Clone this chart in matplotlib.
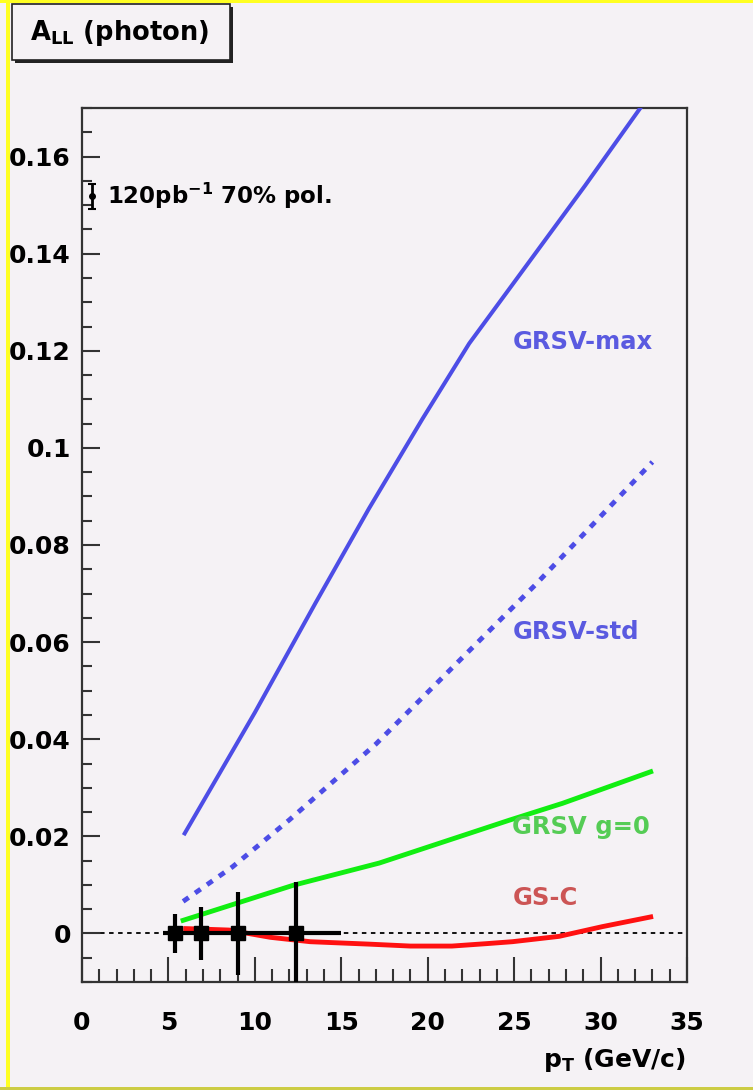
import matplotlib
matplotlib.use('Agg')
import matplotlib.pyplot as plt
from matplotlib.patches import Rectangle
from matplotlib.ticker import MultipleLocator, FixedLocator, FixedFormatter

plt.rcParams['font.family'] = ['DejaVu Sans']
plt.rcParams['font.weight'] = 'bold'
plt.rcParams['mathtext.fontset'] = 'custom'
plt.rcParams['mathtext.rm'] = 'DejaVu Sans:bold'
plt.rcParams['mathtext.bf'] = 'DejaVu Sans:bold'
plt.rcParams['mathtext.it'] = 'DejaVu Sans:bold'

# theory curves: A_LL vs pT
pt_max = [5.94, 10.0, 13.5, 16.6, 19.7, 22.4, 25.7, 29.1, 32.3]
all_max = [0.0206, 0.0455, 0.0680, 0.0875, 0.1060, 0.1215, 0.1375, 0.1540, 0.1700]

pt_std = [5.85, 8.7, 12.0, 17.0, 22.2, 26.2, 33.0]
all_std = [0.0066, 0.0137, 0.0234, 0.0390, 0.0575, 0.0717, 0.0971]

pt_g0 = [5.85, 12.2, 17.2, 22.4, 24.7, 27.8, 32.9]
all_g0 = [0.0027, 0.0099, 0.0145, 0.0206, 0.0233, 0.0268, 0.0333]

pt_gsc = [6.0, 8.5, 10.9, 13.2, 16.6, 19.0, 21.4, 23.4, 24.9, 27.6, 30.1, 32.9]
all_gsc = [0.0010, 0.0007, -0.0008, -0.0017, -0.0022, -0.0026, -0.0026,
           -0.0021, -0.0017, -0.0006, 0.0014, 0.0034]

# projected measurement
pt_pts = [5.4, 6.9, 9.0, 12.4]
all_pts = [0.0, 0.0, 0.0, 0.0]
pt_err_lo = [0.7, 0.9, 1.0, 2.4]
pt_err_hi = [0.6, 1.1, 1.0, 2.6]
all_err = [0.0041, 0.0054, 0.0086, 0.0105]

ytick_vals = [0, 0.02, 0.04, 0.06, 0.08, 0.1, 0.12, 0.14, 0.16]
ytick_labels = ['0', '0.02', '0.04', '0.06', '0.08', '0.1', '0.12', '0.14', '0.16']

bg = '#f5f2f5'
blue = '#4d4de6'
blue_txt = '#5a5ae0'
green = '#11ee11'
green_txt = '#55cc55'
red = '#ff1111'
red_txt = '#cc5555'

W, H = 753, 1090
fig = plt.figure(figsize=(W / 100, H / 100), dpi=100)
fig.patch.set_facecolor(bg)

# canvas frame
fig.add_artist(Rectangle((6 / W, 0), 4 / W, 1, transform=fig.transFigure,
                         facecolor='#ffff22', edgecolor='none'))
fig.add_artist(Rectangle((0, 1 - 3 / H), 1, 3 / H, transform=fig.transFigure,
                         facecolor='#ffff22', edgecolor='none'))
fig.add_artist(Rectangle((0, 0), 1, 3 / H, transform=fig.transFigure,
                         facecolor='#cccc44', edgecolor='none'))

ax = fig.add_axes([82 / W, 1 - 982 / H, (687 - 82) / W, (982 - 108) / H])
ax.set_facecolor(bg)
ax.set_xlim(0, 35)
ax.set_ylim(-0.01, 0.17)

ax.axhline(0, color='black', lw=1.3, ls=(0, (2.5, 2.5)), zorder=1)

ax.plot(pt_max, all_max, color=blue, lw=2.9, zorder=3)
ax.plot(pt_std, all_std, color=blue, lw=3.5, ls=(0, (1.4, 1.6)), zorder=3)
ax.plot(pt_g0, all_g0, color=green, lw=3.5, zorder=3)
ax.plot(pt_gsc, all_gsc, color=red, lw=3.5, zorder=3)

ax.errorbar(pt_pts, all_pts, xerr=[pt_err_lo, pt_err_hi], yerr=all_err,
            fmt='s', color='black', ms=10, elinewidth=3, capsize=0, zorder=4)

# error scale marker
ax.errorbar([0.55], [0.1518], yerr=[0.0026], fmt='o', color='black', ms=4,
            elinewidth=2, capsize=3, capthick=1.5, zorder=4)
ax.text(1.45, 0.1518, r'120pb$^{-1}$ 70% pol.', fontsize=16.5, va='center', ha='left')

ax.text(24.9, 0.1218, 'GRSV-max', color=blue_txt, fontsize=17.5, va='center')
ax.text(24.9, 0.0621, 'GRSV-std', color=blue_txt, fontsize=17.5, va='center')
ax.text(24.9, 0.0219, 'GRSV g=0', color=green_txt, fontsize=17.5, va='center')
ax.text(24.9, 0.0072, 'GS-C', color=red_txt, fontsize=17.5, va='center')

ax.xaxis.set_major_locator(MultipleLocator(5))
ax.xaxis.set_minor_locator(MultipleLocator(1))
ax.yaxis.set_major_locator(FixedLocator(ytick_vals))
ax.yaxis.set_major_formatter(FixedFormatter(ytick_labels))
ax.yaxis.set_minor_locator(MultipleLocator(0.005))

ax.tick_params(axis='both', which='both', direction='in', color='#333333', width=1.5)
ax.tick_params(axis='x', which='major', length=18, pad=21, labelsize=18)
ax.tick_params(axis='x', which='minor', length=9.5)
ax.tick_params(axis='y', which='major', length=13, pad=8, labelsize=18)
ax.tick_params(axis='y', which='minor', length=7)
for lab in ax.get_xticklabels() + ax.get_yticklabels():
    lab.set_fontweight('bold')
for sp in ax.spines.values():
    sp.set_color('#333333')
    sp.set_linewidth(1.6)

fig.text(686 / W, 1 - 1060 / H, r'p$_{T}$ (GeV/c)', fontsize=18, ha='right', va='center')

# title box with drop shadow
fig.add_artist(Rectangle((15 / W, 1 - 63 / H), 218 / W, 56 / H, transform=fig.transFigure,
                         facecolor='#222222', edgecolor='none'))
fig.add_artist(Rectangle((12 / W, 1 - 60 / H), 218 / W, 56 / H, transform=fig.transFigure,
                         facecolor=bg, edgecolor='#222222', lw=1.2))
fig.text(30 / W, 1 - 33 / H, r'A$_{\rm LL}$ (photon)', fontsize=18.5, ha='left', va='center')

fig.savefig('out.png', dpi=100, facecolor=bg)
